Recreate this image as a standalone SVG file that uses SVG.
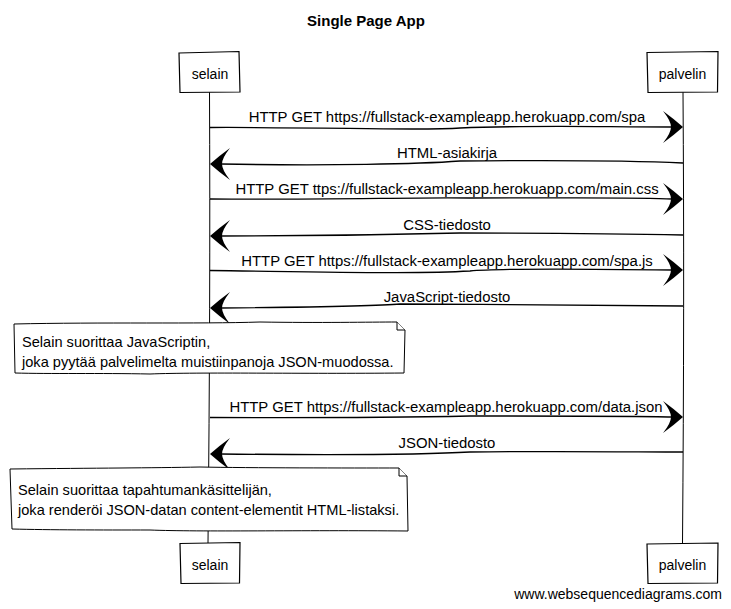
<svg xmlns="http://www.w3.org/2000/svg" width="731" height="609" viewBox="0 0 731 609">
<style>
text{font-family:"Liberation Sans",Arial,sans-serif;fill:#000}
.t{font-size:15px;font-weight:bold;text-anchor:middle}
.p{font-size:14px;text-anchor:middle}
.m{font-size:14.9px;text-anchor:middle}
.n{font-size:14.6px}
.w{font-size:14px}
.box{fill:#fff;stroke:#000;stroke-width:1.2}
.life{fill:none;stroke:#000;stroke-width:1}
.msg{fill:none;stroke:#000;stroke-width:1.3}
.note{fill:#fff;stroke:#000;stroke-width:1}
</style>
<defs>
<path id="ahR" d="M0,0 Q-9,-8 -20,-16 Q-12,-6 -12,0 Q-12,6 -20,16 Q-9,8 0,0 Z" fill="#000"/>
<path id="ahL" d="M0,0 Q9,-8 20,-16 Q12,-6 12,0 Q12,6 20,16 Q9,8 0,0 Z" fill="#000"/>
</defs>
<rect width="731" height="609" fill="#fff"/>
<text class="t" x="366" y="26">Single Page App</text>

<g id="lifelines" class="life">
<path d="M209.5,92 Q210.5,300 208,543"/>
<path d="M683,92 Q684.5,300 682.5,543"/>
</g>

<g id="selain-top">
<path class="box" d="M179,53 L239,51.5 L240,92 L180,92.5 Z"/>
<text class="p" x="210" y="79">selain</text>
</g>
<g id="palvelin-top">
<path class="box" d="M647,52.5 L718,51.5 L717.5,92 L648,92.5 Z"/>
<text class="p" x="682.5" y="79">palvelin</text>
</g>

<g id="connectors">
<path class="msg" d="M210,127.5 C330,127 420,131 460,128 C530,125 600,127 672,127"/>
<use href="#ahR" x="683" y="127"/>
<text class="m" x="447" y="122">HTTP GET https://fullstack-exampleapp.herokuapp.com/spa</text>

<path class="msg" d="M221,164 C330,166 420,164 460,161 C560,160 640,161 683,163"/>
<use href="#ahL" x="210" y="164"/>
<text class="m" x="447" y="158">HTML-asiakirja</text>

<path class="msg" d="M210,199 C330,200 420,197 470,198 C560,198 640,197 672,199"/>
<use href="#ahR" x="683" y="199"/>
<text class="m" x="447" y="194">HTTP GET ttps://fullstack-exampleapp.herokuapp.com/main.css</text>

<path class="msg" d="M221,236 C330,236 420,234 460,233 C560,233 640,234 683,235"/>
<use href="#ahL" x="210" y="236"/>
<text class="m" x="447" y="230">CSS-tiedosto</text>

<path class="msg" d="M210,270.5 C330,272 420,274 470,271 C500,268 600,269 672,270"/>
<use href="#ahR" x="683" y="270"/>
<text class="m" x="447" y="266">HTTP GET https://fullstack-exampleapp.herokuapp.com/spa.js</text>

<path class="msg" d="M221,308 C330,307 380,306 400,304 C500,304 620,306 683,306"/>
<use href="#ahL" x="210" y="308"/>
<text class="m" x="447" y="302">JavaScript-tiedosto</text>

<path class="msg" d="M210,417.5 C330,418 420,417 470,416 C560,416 640,416 672,417"/>
<use href="#ahR" x="683" y="417"/>
<text class="m" x="446" y="412">HTTP GET https://fullstack-exampleapp.herokuapp.com/data.json</text>

<path class="msg" d="M221,454 C330,455 420,455 470,452 C560,451 640,452 683,452"/>
<use href="#ahL" x="210" y="454"/>
<text class="m" x="447" y="448">JSON-tiedosto</text>
</g>

<g id="note1">
<path class="note" d="M14,324 C100,322 200,324 260,322 C320,323 370,322 397,322 L405,330 L404,373 C300,374 200,372 150,374 C100,373 50,374 15,373 Z"/>
<path class="note" d="M397,322 L397,330 L405,330"/>
<text class="n" x="22" y="347">Selain suorittaa JavaScriptin,</text>
<text class="n" x="22" y="367">joka pyytää palvelimelta muistiinpanoja JSON-muodossa.</text>
</g>

<g id="note2">
<path class="note" d="M10,469 C100,468 150,468 200,467 C250,468 350,468 399,468 L407,476 L408,531 C300,530 200,532 150,530 C100,530 50,530 12,529 Z"/>
<path class="note" d="M399,468 L399,476 L407,476"/>
<text class="n" x="18" y="495">Selain suorittaa tapahtumankäsittelijän,</text>
<text class="n" x="18" y="515">joka renderöi JSON-datan content-elementit HTML-listaksi.</text>
</g>

<g id="selain-bottom">
<path class="box" d="M180,543.5 L240,542.5 L239.5,583 L181,583.5 Z"/>
<text class="p" x="210" y="570">selain</text>
</g>
<g id="palvelin-bottom">
<path class="box" d="M647,544 L718,543 L717.5,583 L648,583.5 Z"/>
<text class="p" x="682.5" y="570">palvelin</text>
</g>

<text class="w" x="722" y="599" text-anchor="end">www.websequencediagrams.com</text>
</svg>
